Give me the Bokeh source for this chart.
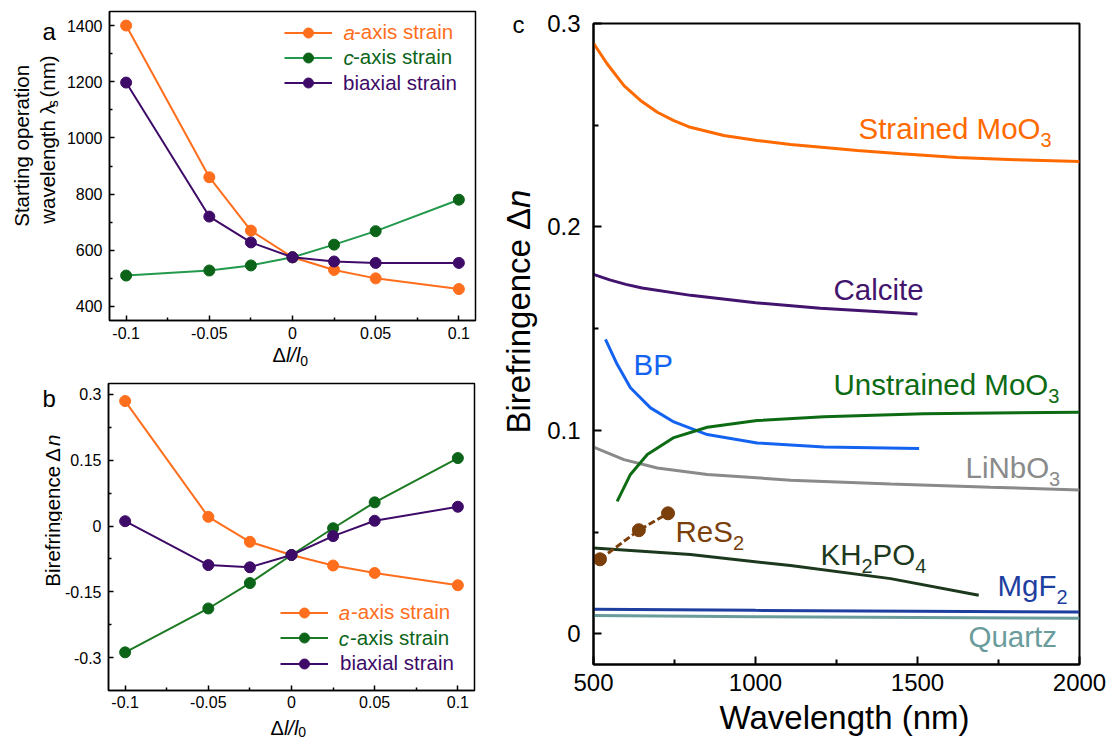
import math
from bokeh.plotting import figure
from bokeh.models import Label, Legend, LegendItem, FixedTicker, Range1d
from bokeh.layouts import row, column
from bokeh.embed import file_html
from bokeh.resources import INLINE

FONT = "Liberation Sans"
KB = 0.30  # empirical baseline correction (fraction of font size)

# ---------------- data: panels a & b ----------------
strain = [-0.1, -0.05, -0.025, 0, 0.025, 0.05, 0.1]
lam_a_axis = [1400, 860, 670, 575, 530, 500, 462]
lam_c_axis = [510, 528, 546, 575, 620, 668, 780]
lam_biaxial = [1197, 720, 628, 575, 560, 555, 555]
dn_a_axis = [0.285, 0.021, -0.036, -0.066, -0.090, -0.107, -0.135]
dn_c_axis = [-0.288, -0.188, -0.130, -0.066, -0.005, 0.054, 0.155]
dn_biaxial = [0.011, -0.089, -0.094, -0.066, -0.023, 0.012, 0.044]

strain_ticks = [-0.1, -0.05, 0, 0.05, 0.1]
strain_tick_labels = ["-0.1", "-0.05", "0", "0.05", "0.1"]
strain_minor = [-0.075, -0.025, 0.025, 0.075]
lam_ticks = [400, 600, 800, 1000, 1200, 1400]
lam_tick_labels = ["400", "600", "800", "1000", "1200", "1400"]
lam_minor = [500, 700, 900, 1100, 1300]
dnb_ticks = [-0.3, -0.15, 0, 0.15, 0.3]
dnb_tick_labels = ["-0.3", "-0.15", "0", "0.15", "0.3"]
dnb_minor = [-0.225, -0.075, 0.075, 0.225]

# ---------------- data: panel c ----------------
wl_strained = [500, 542, 594, 645, 697, 748, 799, 902, 1005, 1108, 1221, 1314, 1450, 1622, 1800, 2000]
dn_strained = [0.2903, 0.2802, 0.2695, 0.2622, 0.2564, 0.2523, 0.2490, 0.2450, 0.2425, 0.2405, 0.2389, 0.2376, 0.2360, 0.2342, 0.2331, 0.2322]
wl_calcite = [500, 550, 600, 650, 800, 1000, 1200, 1500]
dn_calcite = [0.1767, 0.1740, 0.1718, 0.1700, 0.1664, 0.1628, 0.1601, 0.1573]
wl_bp = [537, 573, 614, 676, 748, 851, 1005, 1211, 1505]
dn_bp = [0.1448, 0.1325, 0.1210, 0.1111, 0.1042, 0.0980, 0.0939, 0.0919, 0.0911]
wl_unstrained = [573, 614, 666, 748, 851, 1005, 1211, 1519, 2000]
dn_unstrained = [0.0652, 0.0784, 0.0882, 0.0965, 0.1016, 0.1049, 0.1067, 0.1082, 0.1090]
wl_linbo3 = [500, 594, 697, 851, 1108, 1417, 1725, 2000]
dn_linbo3 = [0.0918, 0.0857, 0.0816, 0.0784, 0.0756, 0.0737, 0.0721, 0.0708]
wl_res2 = [520, 640, 730]
dn_res2 = [0.0367, 0.0510, 0.0593]
wl_kdp = [500, 799, 1108, 1417, 1689]
dn_kdp = [0.0422, 0.0390, 0.0336, 0.0272, 0.0190]
wl_mgf2 = [500, 1000, 2000]
dn_mgf2 = [0.0121, 0.0116, 0.0108]
wl_quartz = [500, 1000, 2000]
dn_quartz = [0.0091, 0.0085, 0.0077]

wl_ticks = [500, 1000, 1500, 2000]
wl_tick_labels = ["500", "1000", "1500", "2000"]
wl_minor = [750, 1250, 1750]
dnc_ticks = [0, 0.1, 0.2, 0.3]
dnc_tick_labels = ["0", "0.1", "0.2", "0.3"]
dnc_minor = [0.05, 0.15, 0.25]

# colours
ORANGE = "#FF6E1C"
GREEN_LINE_A = "#22994C"
GREEN_DARK = "#0C6419"
GREEN_LINE_B = "#1C7A22"
PURPLE = "#3E0B68"

# ---------------- frames (page pixel geometry) ----------------
FA = dict(cx=62, cy=0, w=418, h=345, L=109, T=11, W=366, H=309, xr=(-0.11, 0.11), yr=(350, 1450))
FB = dict(cx=62, cy=380, w=418, h=334, L=107, T=383, W=367, H=307, xr=(-0.11, 0.11), yr=(-0.375, 0.325))
FC = dict(cx=540, cy=0, w=573, h=702, L=593, T=23, W=486, H=641, xr=(500, 2000), yr=(-0.015, 0.3))
DB = FB["T"] - 388  # vertical shift of panel b relative to the reference


def fx(F, px):
    return F["xr"][0] + (px - F["L"]) / F["W"] * (F["xr"][1] - F["xr"][0])


def fy(F, py):
    return F["yr"][1] - (py - F["T"]) / F["H"] * (F["yr"][1] - F["yr"][0])


def corr(px, py, size, angle, baseline):
    if baseline != "alphabetic":
        return px, py
    if angle == 0:
        return px, py - KB * size
    return px - KB * size, py


def make_fig(F, lw):
    bl = F["L"] - F["cx"]
    bt = F["T"] - F["cy"]
    p = figure(width=F["w"], height=F["h"], x_range=Range1d(*F["xr"]), y_range=Range1d(*F["yr"]),
               output_backend="svg", toolbar_location=None, title=None,
               min_border_left=bl, min_border_top=bt,
               min_border_right=F["w"] - bl - F["W"], min_border_bottom=F["h"] - bt - F["H"])
    p.xgrid.visible = False
    p.ygrid.visible = False
    p.outline_line_color = "black"
    p.outline_line_width = lw
    p.outline_line_alpha = 1
    p.background_fill_color = "white"
    p.border_fill_color = "white"
    return p


def text_fig(ox, oy, w, h):
    f = figure(width=w, height=h, x_range=Range1d(0, w), y_range=Range1d(h, 0),
               output_backend="svg", toolbar_location=None, title=None,
               x_axis_location=None, y_axis_location=None, min_border=0,
               min_border_left=0, min_border_right=0, min_border_top=0, min_border_bottom=0)
    f.xgrid.visible = False
    f.ygrid.visible = False
    f.outline_line_color = None
    f.background_fill_color = "white"
    f.border_fill_color = "white"
    return dict(fig=f, ox=ox, oy=oy)


def tlab(T, px, py, text, size, color="black", align="left", angle=0.0, style="normal"):
    px, py = corr(px, py, size, angle, "alphabetic")
    T["fig"].add_layout(Label(x=px - T["ox"], y=py - T["oy"], text=text, text_font=FONT,
                              text_font_size=f"{size}px", text_color=color, text_align=align,
                              text_baseline="alphabetic", angle=angle, text_font_style=style))


def style_axis(ax, ticks, labels, minor, size, standoff, tin, minin, lw):
    ax.ticker = FixedTicker(ticks=ticks, minor_ticks=minor)
    ax.major_label_overrides = dict(zip(ticks, labels))
    ax.major_tick_in = tin
    ax.major_tick_out = 0
    ax.minor_tick_in = minin
    ax.minor_tick_out = 0
    ax.major_label_text_font = FONT
    ax.major_label_text_font_size = size
    ax.major_label_text_color = "black"
    ax.major_label_standoff = standoff
    ax.axis_line_width = lw
    ax.major_tick_line_width = lw
    ax.minor_tick_line_width = lw
    ax.axis_line_color = "black"
    ax.major_tick_line_color = "black"
    ax.minor_tick_line_color = "black"


def lab(p, F, px, py, text, size, color="black", align="left", baseline="alphabetic",
        angle=0.0, style="normal"):
    px, py = corr(px, py, size, angle, baseline)
    p.add_layout(Label(x=fx(F, px), y=fy(F, py), text=text, text_font=FONT,
                       text_font_size=f"{size}px", text_color=color, text_align=align,
                       text_baseline=baseline, angle=angle, text_font_style=style))


def add_legend(p, F, renderers, text, color, gx, gcy, standoff, prefix=None, prefix_x=None):
    leg = Legend(items=[LegendItem(label=text, renderers=renderers)],
                 location=(gx - F["L"], (F["T"] + F["H"]) - (gcy + 12.5)),
                 glyph_width=48, glyph_height=25, label_height=25, label_standoff=int(round(standoff)),
                 padding=0, margin=0, spacing=0, border_line_color=None,
                 background_fill_alpha=0, label_text_font=FONT, label_text_font_size="20.5px",
                 label_text_color=color)
    p.add_layout(leg)
    if prefix:
        lab(p, F, prefix_x, gcy, prefix, 20.5, color=color, baseline="middle", style="italic")


# ================= panel a =================
pa = make_fig(FA, 1.5)
style_axis(pa.xaxis[0], strain_ticks, strain_tick_labels, strain_minor, "16px", 6, 5, 3, 1.5)
style_axis(pa.yaxis[0], lam_ticks, lam_tick_labels, lam_minor, "16px", 7, 5, 3, 1.5)

ra_l = pa.line(strain, lam_a_axis, line_color=ORANGE, line_width=2)
ra_s = pa.scatter(strain, lam_a_axis, size=11, color=ORANGE)
rc_l = pa.line(strain, lam_c_axis, line_color=GREEN_LINE_A, line_width=2)
rc_s = pa.scatter(strain, lam_c_axis, size=11, color=GREEN_DARK)
rb_l = pa.line(strain, lam_biaxial, line_color=PURPLE, line_width=2)
rb_s = pa.scatter(strain, lam_biaxial, size=11, color=PURPLE)

add_legend(pa, FA, [ra_l, ra_s], "-axis strain", ORANGE, 284, 32.3, 22, "a", 343)
add_legend(pa, FA, [rc_l, rc_s], "-axis strain", GREEN_DARK, 284, 57.3, 21, "c", 343)
add_legend(pa, FA, [rb_l, rb_s], "biaxial strain", PURPLE, 284, 82.7, 11)

TA = text_fig(0, 0, 62, 345)
tlab(TA, 42, 30, "a", 24)
tlab(TA, 27, 150, "Starting operation", 20.5, align="center", angle=math.pi / 2)
tlab(TA, 53, 237, "wavelength λ", 20.5, angle=math.pi / 2)
tlab(TA, 57, 107, "s", 14, angle=math.pi / 2)
tlab(TA, 53, 96, "(nm)", 20.5, angle=math.pi / 2)

XA = text_fig(0, 345, 480, 35)
tlab(XA, 272, 360.7, "Δ", 20)
tlab(XA, 285.4, 360.7, "l/l", 20, style="italic")
tlab(XA, 299.8, 365, "0", 14)

# ================= panel b =================
pb = make_fig(FB, 1.5)
style_axis(pb.xaxis[0], strain_ticks, strain_tick_labels, strain_minor, "16px", 5, 5, 3, 1.5)
style_axis(pb.yaxis[0], dnb_ticks, dnb_tick_labels, dnb_minor, "16px", 7, 5, 3, 1.5)

sa_l = pb.line(strain, dn_a_axis, line_color=ORANGE, line_width=2)
sa_s = pb.scatter(strain, dn_a_axis, size=11, color=ORANGE)
sc_l = pb.line(strain, dn_c_axis, line_color=GREEN_LINE_B, line_width=2)
sc_s = pb.scatter(strain, dn_c_axis, size=11, color=GREEN_DARK)
sb_l = pb.line(strain, dn_biaxial, line_color=PURPLE, line_width=2)
sb_s = pb.scatter(strain, dn_biaxial, size=11, color=PURPLE)

add_legend(pb, FB, [sa_l, sa_s], "-axis strain", ORANGE, 279, 617 + DB, 23, "a", 338)
add_legend(pb, FB, [sc_l, sc_s], "-axis strain", GREEN_DARK, 279, 642.5 + DB, 22, "c", 338)
add_legend(pb, FB, [sb_l, sb_s], "biaxial strain", PURPLE, 279, 668 + DB, 12)

TB = text_fig(0, 380, 62, 334)
tlab(TB, 42, 408 + DB, "b", 24)
tlab(TB, 58, 606 + DB, "Birefringence", 20.5, angle=math.pi / 2)
tlab(TB, 58, 470 + DB, "Δ", 20.5, angle=math.pi / 2)
tlab(TB, 58, 453 + DB, "n", 20.5, angle=math.pi / 2, style="italic")

XB = text_fig(0, 714, 480, 25)
tlab(XB, 270, 733, "Δ", 20)
tlab(XB, 283.4, 733, "l/l", 20, style="italic")
tlab(XB, 297.8, 735.3, "0", 14)

# ================= panel c =================
pc = make_fig(FC, 2)
style_axis(pc.xaxis[0], wl_ticks, wl_tick_labels, wl_minor, "24px", 9, 8, 5, 2)
style_axis(pc.yaxis[0], dnc_ticks, dnc_tick_labels, dnc_minor, "24px", 13, 8, 5, 2)

C_STRAINED = "#FF6A00"
C_CALCITE = "#43146E"
C_BP = "#1463F0"
C_UNSTRAINED = "#0D6B14"
C_LINBO3 = "#8A8A8A"
C_RES2 = "#7B3F0C"
C_KDP = "#1D391D"
C_MGF2 = "#1E3FA0"
C_QUARTZ = "#6A9C9C"

pc.line(wl_quartz, dn_quartz, line_color=C_QUARTZ, line_width=3)
pc.line(wl_mgf2, dn_mgf2, line_color=C_MGF2, line_width=3)
pc.line(wl_kdp, dn_kdp, line_color=C_KDP, line_width=3)
pc.line(wl_linbo3, dn_linbo3, line_color=C_LINBO3, line_width=3)
pc.line(wl_bp, dn_bp, line_color=C_BP, line_width=3)
pc.line(wl_unstrained, dn_unstrained, line_color=C_UNSTRAINED, line_width=3)
pc.line(wl_calcite, dn_calcite, line_color=C_CALCITE, line_width=3)
pc.line(wl_strained, dn_strained, line_color=C_STRAINED, line_width=3)
pc.line(wl_res2, dn_res2, line_color=C_RES2, line_width=3, line_dash="7 3")
pc.scatter(wl_res2, dn_res2, size=13, color=C_RES2)

FS = 29.5
SS = 20
lab(pc, FC, 858, 137, "Strained MoO", FS, C_STRAINED)
lab(pc, FC, 1040, 145, "3", SS, C_STRAINED)
lab(pc, FC, 833, 298, "Calcite", FS, C_CALCITE)
lab(pc, FC, 633, 373, "BP", FS, C_BP)
lab(pc, FC, 833, 393, "Unstrained MoO", FS, C_UNSTRAINED)
lab(pc, FC, 1047.8, 401, "3", SS, C_UNSTRAINED)
lab(pc, FC, 965, 476, "LiNbO", FS, C_LINBO3)
lab(pc, FC, 1048.6, 484, "3", SS, C_LINBO3)
lab(pc, FC, 675, 540, "ReS", FS, C_RES2)
lab(pc, FC, 732.4, 548, "2", SS, C_RES2)
lab(pc, FC, 820, 563, "KH", FS, C_KDP)
lab(pc, FC, 861, 571, "2", SS, C_KDP)
lab(pc, FC, 872.1, 563, "PO", FS, C_KDP)
lab(pc, FC, 914.7, 571, "4", SS, C_KDP)
lab(pc, FC, 997, 594, "MgF", FS, C_MGF2)
lab(pc, FC, 1056, 602, "2", SS, C_MGF2)
lab(pc, FC, 968, 645, "Quartz", FS, C_QUARTZ)

TC = text_fig(480, 0, 60, 739)
tlab(TC, 512, 31, "c", 24)
tlab(TC, 528, 433, "Birefringence Δ", 33, angle=math.pi / 2)
tlab(TC, 528, 207.4, "n", 33, angle=math.pi / 2, style="italic")

XC = text_fig(540, 702, 573, 37)
tlab(XC, 836, 727, "Wavelength (nm)", 33, align="center")

left_col = column(row(TA["fig"], pa), XA["fig"], row(TB["fig"], pb), XB["fig"])
right_col = row(TC["fig"], column(pc, XC["fig"]))
layout = row(left_col, right_col)
open("out.html", "w").write(file_html(layout, INLINE))
